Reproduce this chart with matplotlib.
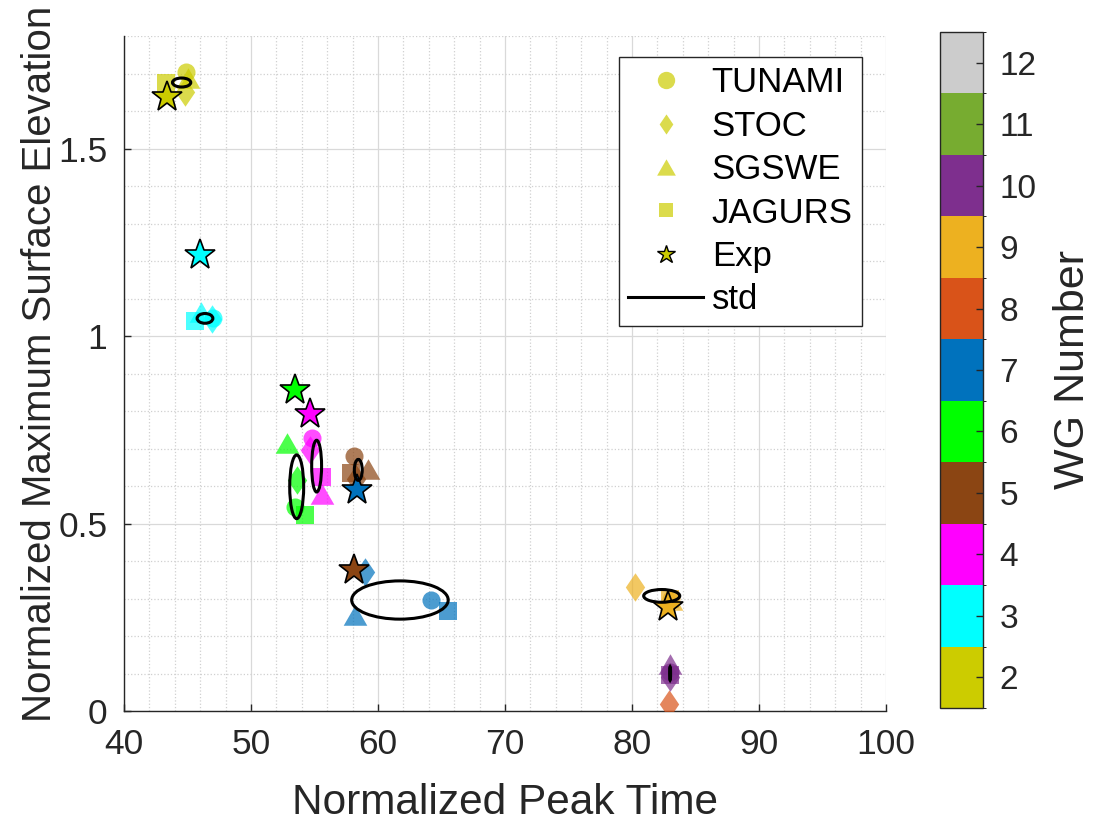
import matplotlib
matplotlib.use("Agg")
import matplotlib.pyplot as plt
import numpy as np
from matplotlib.colors import ListedColormap, BoundaryNorm
from matplotlib.cm import ScalarMappable
from matplotlib.patches import Ellipse
from matplotlib.lines import Line2D
from matplotlib.ticker import MultipleLocator

plt.rcParams['font.family'] = ['Liberation Sans', 'DejaVu Sans']

# numero de sensor (WG) y colores de la barra
wg = [2, 3, 4, 5, 6, 7, 8, 9, 10]
cbar_wg = [2, 3, 4, 5, 6, 7, 8, 9, 10, 11, 12]
cbar_colors = ['#CCCC00', '#00FFFF', '#FF00FF', '#8B4513', '#00FF00', '#0072BD',
               '#D95319', '#EDB120', '#7E2F8E', '#77AC30', '#CCCCCC']

nan = np.nan
# tiempo de pico normalizado / elevacion maxima normalizada por modelo
tunami_t = [44.9, 47.0, 54.8, 58.1, 53.5, 64.2, nan, 83.05, 83.0]
tunami_h = [1.703, 1.048, 0.727, 0.680, 0.545, 0.296, nan, 0.300, 0.105]
stoc_t = [44.8, 46.9, 54.65, 58.3, 53.6, 58.95, 82.94, 80.24, 83.0]
stoc_h = [1.652, 1.045, 0.696, 0.620, 0.616, 0.372, 0.019, 0.331, 0.090]
sgswe_t = [45.05, 46.1, 55.57, 59.2, 52.8, 58.19, nan, 83.1, 83.0]
sgswe_h = [1.688, 1.065, 0.580, 0.645, 0.714, 0.256, nan, 0.295, 0.125]
jagurs_t = [43.28, 45.6, 55.57, 57.9, 54.25, 65.54, nan, 83.0, 83.0]
jagurs_h = [1.676, 1.040, 0.625, 0.635, 0.523, 0.267, nan, 0.300, 0.095]
exp_t = [43.36, 45.98, 54.65, 58.15, 53.46, 58.32, nan, 82.87, nan]
exp_h = [1.638, 1.216, 0.792, 0.375, 0.856, 0.589, nan, 0.278, nan]

# elipses de desviacion estandar (centro y semiejes)
ell_t = [44.54, 46.38, 55.17, 58.45, 53.6, 61.73, nan, 82.34, 83.0]
ell_h = [1.676, 1.047, 0.653, 0.643, 0.598, 0.296, nan, 0.307, 0.100]
ell_dt = [0.72, 0.62, 0.39, 0.31, 0.55, 3.8, nan, 1.42, 0.04]
ell_dh = [0.012, 0.013, 0.069, 0.028, 0.085, 0.051, nan, 0.017, 0.018]

color_de = dict(zip(cbar_wg, cbar_colors))

tri = [(0, 1), (1.15, -1), (-1.15, -1)]
dia = [(0, 1), (0.68, 0), (0, -1), (-0.68, 0)]

modelos = [
    ('TUNAMI', tunami_t, tunami_h, 'o', 13),
    ('STOC', stoc_t, stoc_h, dia, 20.5),
    ('SGSWE', sgswe_t, sgswe_h, tri, 17),
    ('JAGURS', jagurs_t, jagurs_h, 's', 12.5),
]

fig = plt.figure(figsize=(10.96, 8.26), dpi=100)
ax = fig.add_axes([0.1131, 0.1392, 0.6953, 0.8172])

gris = '#262626'

for i, w in enumerate(wg):
    c = color_de[w]
    for nombre, tt, hh, mk, ms in modelos:
        ax.plot(tt[i], hh[i], linestyle='none', marker=mk, markersize=ms,
                color=c, markeredgewidth=0, alpha=0.7, zorder=3)

for i, w in enumerate(wg):
    ax.plot(exp_t[i], exp_h[i], linestyle='none', marker='*', markersize=22.5,
            markerfacecolor=color_de[w], markeredgecolor='black',
            markeredgewidth=1.2, zorder=4)

for i, w in enumerate(wg):
    if np.isnan(ell_t[i]):
        continue
    e = Ellipse((ell_t[i], ell_h[i]), 2 * ell_dt[i], 2 * ell_dh[i],
                fill=False, edgecolor='black', linewidth=2.2, zorder=5)
    ax.add_patch(e)

ax.set_xlim(40, 100)
ax.set_ylim(0, 1.8)
ax.xaxis.set_major_locator(MultipleLocator(10))
ax.xaxis.set_minor_locator(MultipleLocator(2))
ax.yaxis.set_major_locator(MultipleLocator(0.5))
ax.yaxis.set_minor_locator(MultipleLocator(0.1))
ax.set_yticks([0, 0.5, 1, 1.5])
ax.set_yticklabels(['0', '0.5', '1', '1.5'])

ax.grid(True, which='major', color='#d9d9d9', linewidth=0.9, linestyle='-')
ax.grid(True, which='minor', color='#d0d0d0', linewidth=0.9, linestyle=':')
ax.set_axisbelow(True)

for lado in ['top', 'right']:
    ax.spines[lado].set_visible(False)
for lado in ['left', 'bottom']:
    ax.spines[lado].set_color(gris)
    ax.spines[lado].set_linewidth(1.0)

ax.tick_params(which='major', direction='in', length=5, width=1.0,
               colors=gris, labelsize=25.5, pad=12)
ax.tick_params(which='minor', length=0)

ax.set_xlabel('Normalized Peak Time', fontsize=30.5, color=gris, labelpad=16)
ax.set_ylabel('Normalized Maximum Surface Elevation', fontsize=29, color=gris,
              labelpad=4)
ax.yaxis.set_label_coords(-0.085, 0.515)

# leyenda con marcadores del WG2
c2 = cbar_colors[0]
handles = [
    Line2D([], [], linestyle='none', marker='o', markersize=12.5, color=c2,
           alpha=0.7, markeredgewidth=0),
    Line2D([], [], linestyle='none', marker=dia, markersize=14.5, color=c2,
           alpha=0.7, markeredgewidth=0),
    Line2D([], [], linestyle='none', marker=tri, markersize=13.5, color=c2,
           alpha=0.7, markeredgewidth=0),
    Line2D([], [], linestyle='none', marker='s', markersize=10, color=c2,
           alpha=0.7, markeredgewidth=0),
    Line2D([], [], linestyle='none', marker='*', markersize=13.5,
           markerfacecolor=c2, markeredgecolor='black', markeredgewidth=1.0),
    Line2D([], [], color='black', linewidth=2.2),
]
labels = ['TUNAMI', 'STOC', 'SGSWE', 'JAGURS', 'Exp', 'std']
leg = ax.legend(handles, labels, loc='upper right',
                bbox_to_anchor=(862 / 1096, 1 - 57 / 826),
                bbox_transform=fig.transFigure, borderaxespad=0,
                fontsize=25, frameon=True, fancybox=False, framealpha=1,
                edgecolor=gris, handlelength=2.15, handletextpad=0.25,
                labelspacing=0.3, borderpad=0.27)
leg.get_frame().set_linewidth(1.0)

# barra de colores
cax = fig.add_axes([0.8577, 0.1429, 0.0392, 0.8184])
cmap = ListedColormap(cbar_colors)
bounds = np.arange(1.5, 13.5, 1)
norm = BoundaryNorm(bounds, cmap.N)
sm = ScalarMappable(norm=norm, cmap=cmap)
cb = fig.colorbar(sm, cax=cax, ticks=cbar_wg)
cb.outline.set_edgecolor(gris)
cb.outline.set_linewidth(1.0)
cax.tick_params(direction='in', length=5, width=1.0, colors=gris,
                labelsize=24, pad=12)
cb.set_label('WG Number', fontsize=31, color=gris, labelpad=12)

fig.savefig('out.png', dpi=100)
